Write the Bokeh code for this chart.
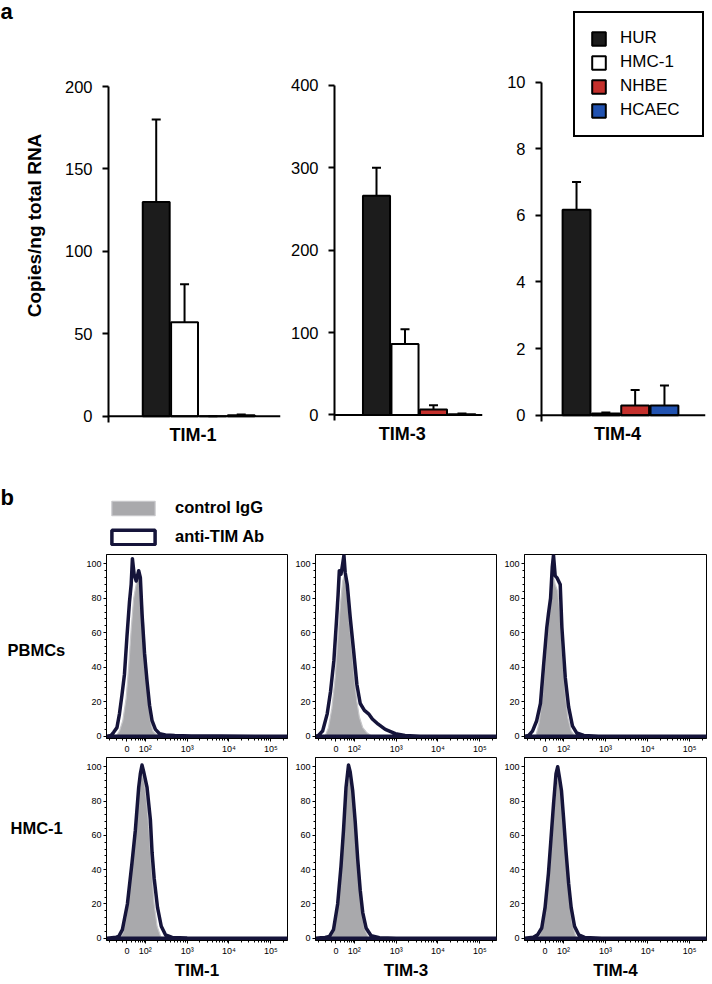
import numpy as np
from bokeh.plotting import figure
from bokeh.models import (ColumnDataSource, Range1d, Span, Whisker, TeeHead, Label,
                          Legend, LegendItem, FixedTicker)
from bokeh.layouts import column, row
from bokeh.embed import file_html
from bokeh.resources import INLINE

FONT = "Liberation Sans"

# ---------------- panel a data ----------------
cell_types = ["HUR", "HMC-1", "NHBE", "HCAEC"]
genes = ["TIM-1", "TIM-3", "TIM-4"]
tim1_copies = [130, 57, 0, 0.6]
tim1_err = [50, 23, 0, 0.4]
tim3_copies = [266, 86, 6.5, 0.8]
tim3_err = [34, 18, 5.3, 1.0]
tim4_copies = [6.17, 0.05, 0.29, 0.29]
tim4_err = [0.83, 0.03, 0.47, 0.60]
tim1_yticks = [0, 50, 100, 150, 200]
tim3_yticks = [0, 100, 200, 300, 400]
tim4_yticks = [0, 2, 4, 6, 8, 10]

# ---------------- panel b data (x in display decades of the biexponential axis) ----------------
flow_tick_pos = [1.56, 2, 3, 4, 5]
flow_tick_labels = ["0", "10\u00b2", "10\u00b3", "10\u2074", "10\u2075"]
flow_y_ticks = [0, 20, 40, 60, 80, 100]
row_labels = ["PBMCs", "HMC-1"]
legend_b_labels = ["control IgG", "anti-TIM Ab"]

pbmc_tim1_ctrl_x = [1.30, 1.38, 1.46, 1.54, 1.60, 1.66, 1.72, 1.78, 1.83, 1.88, 1.93, 1.97, 2.02, 2.07, 2.12, 2.18, 2.26, 2.40]
pbmc_tim1_ctrl_y = [0, 3, 9, 22, 40, 62, 80, 88, 94, 90, 76, 60, 42, 22, 9, 3, 1, 0]
pbmc_tim1_anti_x = [1.08, 1.18, 1.24, 1.32, 1.38, 1.44, 1.50, 1.56, 1.62, 1.66, 1.69, 1.73, 1.78, 1.84, 1.88, 1.92, 1.98, 2.04, 2.10, 2.16, 2.24, 2.34, 2.48, 2.70, 3.10, 3.80, 4.60, 5.39]
pbmc_tim1_anti_y = [0, 0.5, 2.3, 5, 13, 24, 36, 58, 78, 88, 103, 94, 90, 96, 92, 71, 48, 32, 18, 9, 4, 1.5, 0.8, 0.4, 0.2, 0.1, 0, 0]

pbmc_tim3_ctrl_x = [1.30, 1.38, 1.46, 1.54, 1.60, 1.66, 1.72, 1.77, 1.82, 1.88, 1.94, 2.00, 2.06, 2.12, 2.20, 2.30, 2.42]
pbmc_tim3_ctrl_y = [0, 5, 16, 34, 55, 75, 90, 94, 86, 66, 50, 33, 20, 11, 5, 2, 0]
pbmc_tim3_anti_x = [1.08, 1.14, 1.24, 1.35, 1.43, 1.51, 1.58, 1.61, 1.64, 1.68, 1.72, 1.75, 1.78, 1.83, 1.90, 1.98, 2.06, 2.14, 2.24, 2.34, 2.43, 2.57, 2.74, 2.98, 3.21, 3.57, 4.30, 5.39]
pbmc_tim3_anti_y = [0, 0.5, 3, 13, 26, 44, 70, 82, 96, 94, 100, 105, 95, 88, 69, 50, 30, 19, 15, 13, 10, 7, 4, 1.5, 0.5, 0, 0, 0]

pbmc_tim4_ctrl_x = [1.34, 1.42, 1.50, 1.58, 1.64, 1.70, 1.76, 1.80, 1.86, 1.92, 1.98, 2.04, 2.10, 2.18, 2.28]
pbmc_tim4_ctrl_y = [0, 8, 24, 48, 66, 82, 92, 88, 84, 70, 45, 25, 11, 3, 0]
pbmc_tim4_anti_x = [1.08, 1.17, 1.26, 1.36, 1.45, 1.52, 1.60, 1.64, 1.69, 1.73, 1.76, 1.80, 1.84, 1.92, 1.96, 2.04, 2.12, 2.21, 2.31, 2.48, 2.83, 3.50, 4.40, 5.39]
pbmc_tim4_anti_y = [0, 0.5, 3, 9, 19, 40, 63, 71, 80, 98, 105, 93, 92, 88, 63, 34, 17, 6, 2, 0.5, 0, 0, 0, 0]

hmc_tim1_ctrl_x = [1.38, 1.46, 1.54, 1.62, 1.70, 1.78, 1.85, 1.91, 1.97, 2.03, 2.09, 2.15, 2.21, 2.28, 2.38]
hmc_tim1_ctrl_y = [0, 3, 12, 30, 50, 70, 88, 96, 92, 80, 62, 40, 20, 7, 0]
hmc_tim1_anti_x = [1.08, 1.20, 1.30, 1.36, 1.45, 1.57, 1.68, 1.76, 1.84, 1.88, 1.92, 1.96, 2.04, 2.12, 2.16, 2.21, 2.29, 2.38, 2.48, 2.64, 3.00, 3.80, 4.60, 5.39]
hmc_tim1_anti_y = [0, 0.3, 0.6, 1, 5, 20, 44, 63, 88, 96, 101, 97, 88, 69, 50, 35, 18, 7, 2, 0.5, 0.2, 0, 0, 0]

hmc_tim3_ctrl_x = [1.42, 1.50, 1.58, 1.66, 1.73, 1.80, 1.86, 1.92, 1.98, 2.04, 2.10, 2.16, 2.24, 2.34]
hmc_tim3_ctrl_y = [0, 4, 15, 35, 58, 82, 95, 90, 78, 60, 40, 20, 6, 0]
hmc_tim3_anti_x = [1.08, 1.20, 1.30, 1.40, 1.50, 1.60, 1.68, 1.74, 1.80, 1.86, 1.90, 1.96, 2.02, 2.08, 2.14, 2.20, 2.28, 2.40, 2.60, 3.00, 3.80, 4.60, 5.39]
hmc_tim3_anti_y = [0, 0.3, 0.5, 1, 5, 20, 42, 63, 88, 101, 97, 86, 68, 46, 28, 15, 6, 1.5, 0.3, 0, 0, 0, 0]

hmc_tim4_ctrl_x = [1.40, 1.48, 1.56, 1.64, 1.71, 1.78, 1.84, 1.89, 1.95, 2.01, 2.07, 2.13, 2.20, 2.30]
hmc_tim4_ctrl_y = [0, 5, 16, 34, 56, 78, 92, 95, 85, 66, 46, 26, 9, 0]
hmc_tim4_anti_x = [1.08, 1.18, 1.28, 1.38, 1.48, 1.56, 1.64, 1.70, 1.76, 1.82, 1.86, 1.90, 1.95, 2.00, 2.06, 2.12, 2.18, 2.26, 2.36, 2.50, 2.90, 3.70, 4.50, 5.39]
hmc_tim4_anti_y = [0, 0.3, 0.6, 2, 6, 18, 38, 58, 78, 96, 100, 94, 86, 70, 50, 32, 18, 7, 2, 0.5, 0, 0, 0, 0]

# ---------------- styles ----------------
bar_colors = ["#1c1c1c", "#ffffff", "#c4302c", "#2152b0"]
CTRL_FILL = "#a9a9ac"
CTRL_LINE = "#c6c6c9"
ANTI_LINE = "#15143a"
X_LO, X_HI = 1.07, 5.40
Y_LO, Y_HI = -1.3, 105.4
ROW_A_H, ROW_A_BOTTOM = 478, 28


def text_fig(w, h, top=0, bottom=0):
    p = figure(width=w, height=h, output_backend="svg", toolbar_location=None,
               x_axis_location=None, y_axis_location=None, min_border=0,
               min_border_top=top, min_border_bottom=bottom,
               x_range=Range1d(0, 1), y_range=Range1d(0, 1))
    p.title.visible = False
    p.outline_line_color = None
    p.grid.visible = False
    return p


def bar_panel(vals, errs, yticks, gene, width, bl, br, x_lo, x_hi, y_lo, y_hi, y_axis_lo,
              label_x, ylabel=None):
    p = figure(width=width, height=ROW_A_H, output_backend="svg", toolbar_location=None,
               x_range=Range1d(x_lo, x_hi), y_range=Range1d(y_lo, y_hi),
               min_border_left=bl, min_border_right=br, min_border_top=0,
               min_border_bottom=ROW_A_BOTTOM)
    p.title.visible = False
    p.outline_line_color = None
    p.grid.visible = False
    p.xaxis.visible = False
    src = ColumnDataSource(dict(x=list(range(len(cell_types))), top=vals,
                                upper=[v + e for v, e in zip(vals, errs)],
                                color=bar_colors, cat=cell_types))
    bars = p.vbar(x="x", top="top", bottom=0, width=0.95, fill_color="color",
                  line_color="black", line_width=2, source=src)
    p.add_layout(Whisker(base="x", upper="upper", lower="top", source=src, dimension="height",
                         line_color="black", line_width=2,
                         upper_head=TeeHead(size=9, line_width=2, line_color="black"),
                         lower_head=None))
    p.add_layout(Span(location=0, dimension="width", line_color="black", line_width=2))
    ax = p.yaxis[0]
    ax.ticker = FixedTicker(ticks=yticks)
    ax.bounds = (y_axis_lo, yticks[-1])
    ax.axis_line_width = 2
    ax.axis_line_color = "black"
    ax.major_tick_line_width = 2
    ax.major_tick_line_color = "black"
    ax.major_tick_out = 6
    ax.major_tick_in = 0
    ax.minor_tick_line_color = None
    ax.major_label_standoff = 10
    ax.major_label_text_font = FONT
    ax.major_label_text_font_size = "16.5px"
    ax.major_label_text_color = "black"
    if ylabel:
        ax.axis_label = ylabel
        ax.axis_label_text_font = FONT
        ax.axis_label_text_font_size = "19px"
        ax.axis_label_text_font_style = "bold"
        ax.axis_label_text_color = "black"
        ax.axis_label_standoff = 17
    p.add_layout(Label(x=label_x, y=0, x_units="data", y_units="data", y_offset=-19,
                       text=gene, text_align="center", text_baseline="middle",
                       text_font=FONT, text_font_size="18px", text_font_style="bold",
                       text_color="black"))
    return p, bars


# ---- panel a (all frames span page y 0..450) ----
la = text_fig(20, ROW_A_H, 0, ROW_A_BOTTOM)
la.add_layout(Label(x=0, y=439, x_units="screen", y_units="screen", text="a",
                    text_font=FONT, text_font_size="22px", text_font_style="bold",
                    text_baseline="alphabetic", text_color="black"))

a1, _ = bar_panel(tim1_copies, tim1_err, tim1_yticks, genes[0], 265, 87, 5,
                  -1.684, 4.386, -20.8, 252.2, -3.8, 1.3, ylabel="Copies/ng total RNA")
a2, _ = bar_panel(tim3_copies, tim3_err, tim3_yticks, genes[1], 205, 49, 8,
                  -1.474, 3.72, -43.2, 503.2, -7.3, 0.9)
a3, bars3 = bar_panel(tim4_copies, tim4_err, tim4_yticks, genes[2], 221, 51, 6,
                      -1.195, 4.40, -1.06, 12.45, -0.18, 1.4)

legend_a = Legend(items=[LegendItem(label=c, renderers=[bars3], index=i) for i, c in enumerate(cell_types)],
                  location=(32, 313), glyph_width=17, glyph_height=17, label_standoff=13,
                  label_width=67, spacing=4, padding=15, margin=0,
                  border_line_color="black", border_line_width=2, border_line_alpha=1.0,
                  background_fill_color="white", background_fill_alpha=1.0,
                  label_text_font=FONT, label_text_font_size="17px", label_text_color="black")
a3.add_layout(legend_a)


def hist_panel(width, height, bl, br, bt, bb, cx, cy, ax_, ay, gene=None):
    p = figure(width=width, height=height, output_backend="svg", toolbar_location=None,
               x_range=Range1d(X_LO, X_HI), y_range=Range1d(Y_LO, Y_HI),
               min_border_left=bl, min_border_right=br, min_border_top=bt, min_border_bottom=bb)
    p.title.visible = False
    p.grid.visible = False
    p.outline_line_color = "black"
    p.outline_line_width = 1
    ctrl = p.patch(cx, cy, fill_color=CTRL_FILL, line_color=CTRL_LINE, line_width=1.2)
    anti = p.patch(ax_, ay, fill_color=None, line_color=ANTI_LINE, line_width=3.5, line_join="round")
    minor_x = [1.15, 1.30, 1.45, 1.67, 1.76, 1.83, 1.88, 1.93, 1.97]
    for d in (2, 3, 4):
        minor_x += [d + np.log10(k) for k in range(2, 10)]
    minor_x += [5 + np.log10(2)]
    xa = p.xaxis[0]
    xa.ticker = FixedTicker(ticks=flow_tick_pos, minor_ticks=minor_x)
    xa.major_label_overrides = dict(zip(flow_tick_pos, flow_tick_labels))
    ya = p.yaxis[0]
    ya.ticker = FixedTicker(ticks=flow_y_ticks, minor_ticks=[v for v in range(4, 100, 4) if v % 20])
    for a in (xa, ya):
        a.axis_line_color = "black"
        a.major_tick_line_color = "black"
        a.minor_tick_line_color = "black"
        a.major_tick_out = 3
        a.major_tick_in = 0
        a.minor_tick_out = 2
        a.minor_tick_in = 0
        a.major_label_standoff = 2
        a.major_label_text_font = FONT
        a.major_label_text_font_size = "9px"
        a.major_label_text_color = "black"
    if gene:
        xa.axis_label = gene
        xa.axis_label_text_font = FONT
        xa.axis_label_text_font_size = "17px"
        xa.axis_label_text_font_style = "bold"
        xa.axis_label_text_color = "black"
        xa.axis_label_standoff = 2
    return p, ctrl, anti


# ---- panel b: legend strip ----
strip = text_fig(711, 74)
strip.add_layout(Label(x=0, y=55, x_units="screen", y_units="screen", text="b",
                       text_font=FONT, text_font_size="22px", text_font_style="bold",
                       text_baseline="alphabetic", text_color="black"))
key_ctrl = strip.patch(pbmc_tim1_ctrl_x, pbmc_tim1_ctrl_y, fill_color=CTRL_FILL,
                       line_color=CTRL_LINE, line_width=1.2)
key_anti = strip.patch(pbmc_tim1_anti_x, pbmc_tim1_anti_y, fill_color=None,
                       line_color=ANTI_LINE, line_width=3.5)
key_ctrl.visible = False
key_anti.visible = False
legend_b = Legend(items=[LegendItem(label=legend_b_labels[0], renderers=[key_ctrl]),
                         LegendItem(label=legend_b_labels[1], renderers=[key_anti])],
                  location=(106, 6), glyph_width=54, glyph_height=18, label_standoff=15,
                  spacing=10, padding=0, margin=0, border_line_color=None,
                  background_fill_alpha=0, label_text_font=FONT, label_text_color="black",
                  label_text_font_size="16.5px", label_text_font_style="bold")
strip.add_layout(legend_b)

# ---- panel b: histogram rows ----
lb1 = text_fig(80, 204, 2, 18)
lb1.add_layout(Label(x=7, y=89, x_units="screen", y_units="screen", text=row_labels[0],
                     text_font=FONT, text_font_size="16.5px", text_font_style="bold",
                     text_baseline="middle", text_color="black"))
lb2 = text_fig(80, 227, 1, 43)
lb2.add_layout(Label(x=10, y=113, x_units="screen", y_units="screen", text=row_labels[1],
                     text_font=FONT, text_font_size="16.5px", text_font_style="bold",
                     text_baseline="middle", text_color="black"))

h11, _, _ = hist_panel(210, 204, 26, 3, 2, 18, pbmc_tim1_ctrl_x, pbmc_tim1_ctrl_y, pbmc_tim1_anti_x, pbmc_tim1_anti_y)
h12, _, _ = hist_panel(210, 204, 25, 4, 2, 18, pbmc_tim3_ctrl_x, pbmc_tim3_ctrl_y, pbmc_tim3_anti_x, pbmc_tim3_anti_y)
h13, _, _ = hist_panel(211, 204, 24, 5, 2, 18, pbmc_tim4_ctrl_x, pbmc_tim4_ctrl_y, pbmc_tim4_anti_x, pbmc_tim4_anti_y)
h21, _, _ = hist_panel(210, 227, 26, 3, 1, 43, hmc_tim1_ctrl_x, hmc_tim1_ctrl_y, hmc_tim1_anti_x, hmc_tim1_anti_y, genes[0])
h22, _, _ = hist_panel(210, 227, 25, 4, 1, 43, hmc_tim3_ctrl_x, hmc_tim3_ctrl_y, hmc_tim3_anti_x, hmc_tim3_anti_y, genes[1])
h23, _, _ = hist_panel(211, 227, 24, 5, 1, 43, hmc_tim4_ctrl_x, hmc_tim4_ctrl_y, hmc_tim4_anti_x, hmc_tim4_anti_y, genes[2])

layout = column(row(la, a1, a2, a3), strip, row(lb1, h11, h12, h13), row(lb2, h21, h22, h23))
open("out.html", "w").write(file_html(layout, INLINE))
